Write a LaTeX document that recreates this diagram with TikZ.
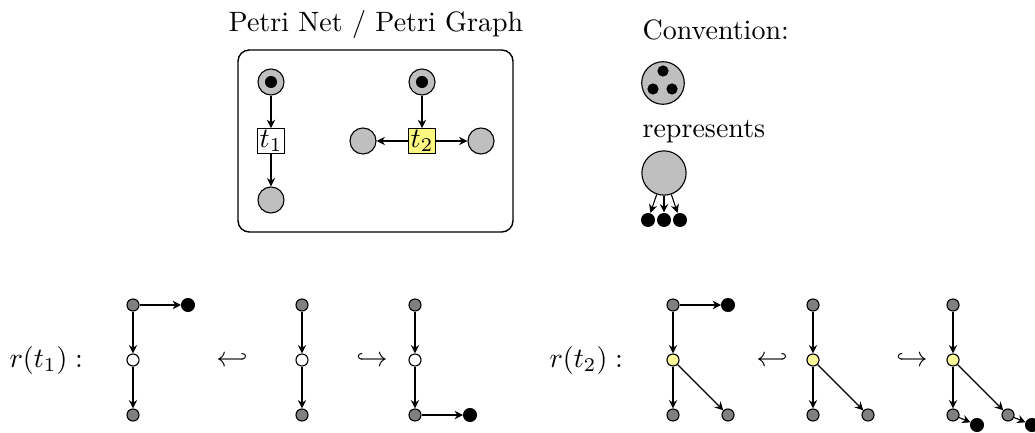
\documentclass[tikz,border=0pt]{standalone}
\usetikzlibrary{arrows.meta}
\begin{document}
\begin{tikzpicture}[x=0.357pt, y=-0.357pt,
  >={Stealth[length=3pt,width=3pt]},
  place/.style={circle, draw, fill=gray!50, minimum size=9.3pt, inner sep=0pt},
  token/.style={circle, fill=black, minimum size=4.3pt, inner sep=0pt},
  trans/.style={draw, fill=white, minimum width=9.6pt, minimum height=8.8pt, inner sep=0pt},
  sp/.style={circle, draw, fill=gray, minimum size=4.3pt, inner sep=0pt},
  bp/.style={circle, draw, fill=black, minimum size=4.6pt, inner sep=0pt},
  wp/.style={circle, draw, fill=white, minimum size=4.3pt, inner sep=0pt},
  yp/.style={circle, draw, fill=yellow!40, minimum size=4.3pt, inner sep=0pt},
  lbl/.style={inner sep=0pt}]
\useasboundingbox (0,0) rectangle (1035,433);

% ---------- Petri net ----------
\node[lbl, anchor=base] (title) at (376,32) {Petri Net / Petri Graph};
\draw[line width=0.5pt, rounded corners=4pt] (238,50) rectangle (513,232);

\node[place] (pa) at (271,82) {};
\node[token] (ka) at (271,82) {};
\node[trans] (t1) at (271,141) {$t_1$};
\node[place] (pb) at (271,200) {};
\draw[->] (pa) -- (t1);
\draw[->] (t1) -- (pb);

\node[place] (pc) at (422,82) {};
\node[token] (kc) at (422,82) {};
\node[trans, fill=yellow!50] (t2) at (422,141) {$t_2$};
\node[place] (pl) at (363,141) {};
\node[place] (pr) at (481,141) {};
\draw[->] (pc) -- (t2);
\draw[->] (t2) -- (pl);
\draw[->] (t2) -- (pr);

% ---------- Convention ----------
\node[lbl, anchor=base west] (conv) at (642,40) {Convention:};
\node[place, minimum size=15.2pt] (cp) at (663,83) {};
\node[token, minimum size=4pt] (c1) at (663,71) {};
\node[token, minimum size=4pt] (c2) at (653,89) {};
\node[token, minimum size=4pt] (c3) at (672,89) {};
\node[lbl, anchor=base west] (rep) at (642,138) {represents};
\node[place, minimum size=15.8pt] (bigp) at (664,173) {};
\node[token, minimum size=5pt] (d1) at (648,220) {};
\node[token, minimum size=5pt] (d2) at (664,220) {};
\node[token, minimum size=5pt] (d3) at (680,220) {};
\draw[->] (bigp) -- (d1);
\draw[->] (bigp) -- (d2);
\draw[->] (bigp) -- (d3);

% ---------- r(t1) ----------
\node[lbl, anchor=base west] (r1) at (9,367) {$r(t_1):$};
\node[sp] (a1) at (133,305) {};
\node[wp] (a2) at (133,360) {};
\node[sp] (a3) at (133,415) {};
\node[bp] (a4) at (188,305) {};
\draw[->] (a1) -- (a2);
\draw[->] (a2) -- (a3);
\draw[->] (a1) -- (a4);
\node[lbl] (h1) at (232,360) {$\hookleftarrow$};
\node[sp] (b1) at (302,305) {};
\node[wp] (b2) at (302,360) {};
\node[sp] (b3) at (302,415) {};
\draw[->] (b1) -- (b2);
\draw[->] (b2) -- (b3);
\node[lbl] (h2) at (372,360) {$\hookrightarrow$};
\node[sp] (c1g) at (415,305) {};
\node[wp] (c2g) at (415,360) {};
\node[sp] (c3g) at (415,415) {};
\node[bp] (c4g) at (470,415) {};
\draw[->] (c1g) -- (c2g);
\draw[->] (c2g) -- (c3g);
\draw[->] (c3g) -- (c4g);

% ---------- r(t2) ----------
\node[lbl, anchor=base west] (r2) at (549,367) {$r(t_2):$};
\node[sp] (e1) at (673,305) {};
\node[yp] (e2) at (673,360) {};
\node[sp] (e3) at (673,415) {};
\node[sp] (e4) at (728,415) {};
\node[bp] (e5) at (728,305) {};
\draw[->] (e1) -- (e2);
\draw[->] (e2) -- (e3);
\draw[->] (e2) -- (e4);
\draw[->] (e1) -- (e5);
\node[lbl] (h3) at (772,360) {$\hookleftarrow$};
\node[sp] (f1) at (813,305) {};
\node[yp] (f2) at (813,360) {};
\node[sp] (f3) at (813,415) {};
\node[sp] (f4) at (868,415) {};
\draw[->] (f1) -- (f2);
\draw[->] (f2) -- (f3);
\draw[->] (f2) -- (f4);
\node[lbl] (h4) at (912,360) {$\hookrightarrow$};
\node[sp] (g1) at (953,305) {};
\node[yp] (g2) at (953,360) {};
\node[sp] (g3) at (953,415) {};
\node[sp] (g4) at (1008,415) {};
\node[bp] (g5) at (977,425) {};
\node[bp] (g6) at (1032,425) {};
\draw[->] (g1) -- (g2);
\draw[->] (g2) -- (g3);
\draw[->] (g2) -- (g4);
\draw[->] (g3) -- (g5);
\draw[->] (g4) -- (g6);
\end{tikzpicture}
\end{document}
